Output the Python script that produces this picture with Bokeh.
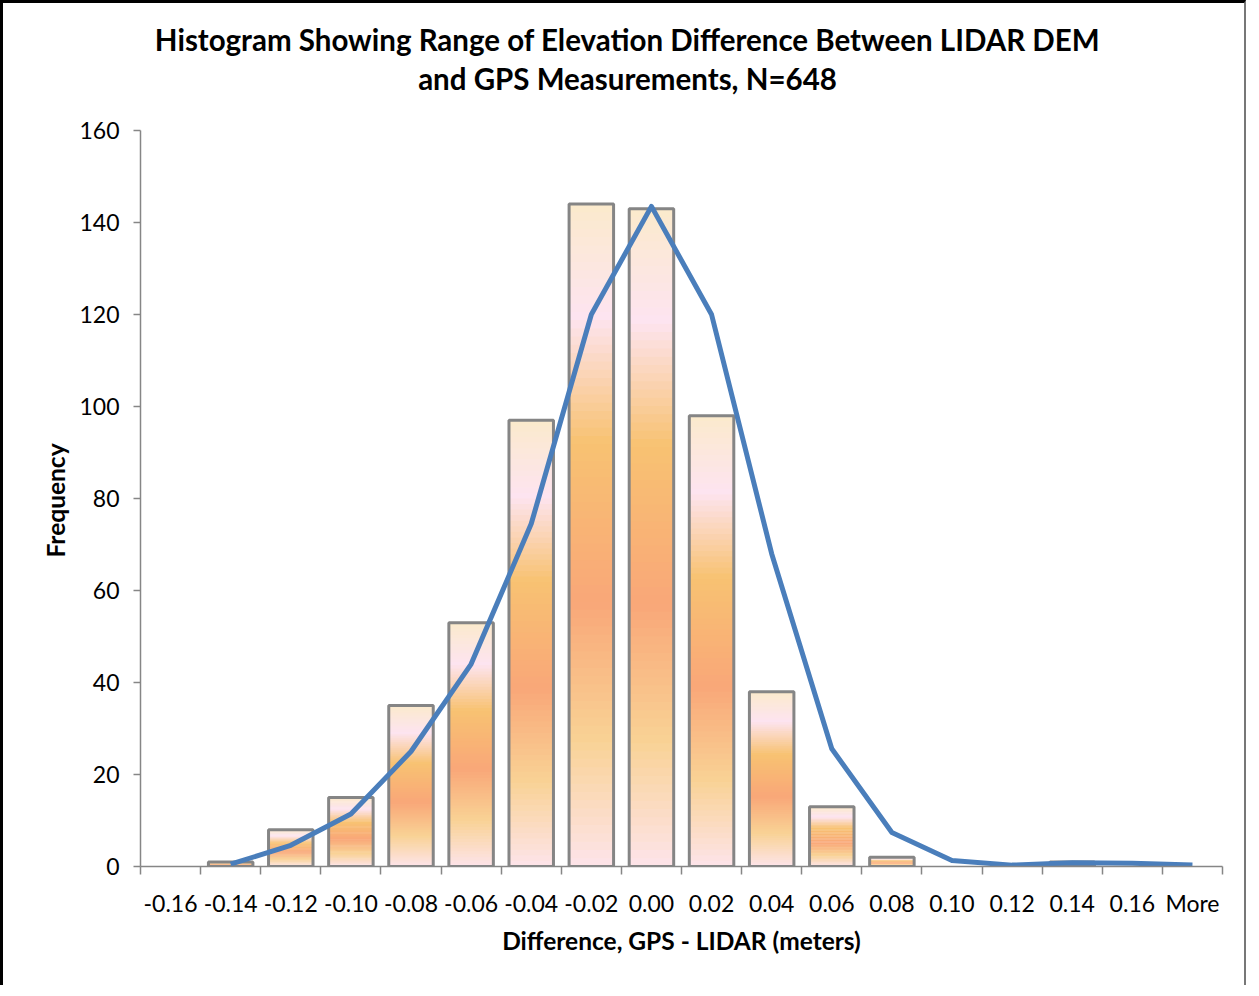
import numpy as np
from bokeh.plotting import figure
from bokeh.models import (ColumnDataSource, Range1d, FixedTicker, Label, CDSView,
                          BooleanFilter, Title)
from bokeh.embed import file_html
from bokeh.resources import INLINE

# ---- data ----
categories = ["-0.16", "-0.14", "-0.12", "-0.10", "-0.08", "-0.06", "-0.04", "-0.02",
              "0.00", "0.02", "0.04", "0.06", "0.08", "0.10", "0.12", "0.14", "0.16", "More"]
frequency = [0, 1, 8, 15, 35, 53, 97, 144, 143, 98, 38, 13, 2, 0, 0, 1, 0, 0]
normal_fit = [np.nan, 0.5, 4.6, 11.4, 25.0, 44.0, 74.5, 120.0, 143.5, 120.0, 68.0,
              25.6, 7.4, 1.3, 0.3, 0.8, 0.7, 0.3]
y_ticks = [0, 20, 40, 60, 80, 100, 120, 140, 160]

title_line1 = "Histogram Showing Range of Elevation Difference Between LIDAR DEM"
title_line2 = "and GPS Measurements, N=648"
x_label = "Difference, GPS - LIDAR (meters)"
y_label = "Frequency"

FONT = "Lato"
xs = np.arange(len(categories))
Y_MAX = 160

# ---- layout geometry (pixels) ----
W, H = 1246, 985
MB_LEFT, MB_RIGHT, MB_TOP, MB_BOTTOM = 137, 27, 10, 122
frame_w = W - MB_LEFT - MB_RIGHT
frame_h = H - MB_TOP - MB_BOTTOM
axis_h = 736                      # pixel height of the 0..160 value axis
y_top = Y_MAX * frame_h / axis_h  # extra room above the axis holds the title
px_per_cat = frame_w / len(categories)
x_start = -0.5
title_x = x_start + (W / 2 + 1 - MB_LEFT) / px_per_cat
title_y1 = 827 / axis_h * Y_MAX
title_y2 = 788 / axis_h * Y_MAX

# gradient stops (fraction from top of bar, colour)
stops = [(0.0, (251, 234, 204)), (0.17, (253, 228, 240)), (0.36, (248, 194, 114)),
         (0.60, (249, 167, 120)), (0.81, (249, 210, 149)), (1.0, (253, 228, 234))]


def grad_color(t):
    for (t0, c0), (t1, c1) in zip(stops[:-1], stops[1:]):
        if t0 <= t <= t1:
            f = (t - t0) / (t1 - t0)
            c = [round(a + (b - a) * f) for a, b in zip(c0, c1)]
            return "#%02x%02x%02x" % tuple(c)
    return "#%02x%02x%02x" % stops[-1][1]


N = 80
sx, sb, st, sc = [], [], [], []
for x, v in zip(xs, frequency):
    if v <= 0:
        continue
    for k in range(N):
        f0 = k / N
        f1 = min((k + 1.6) / N, 1.0)
        t = 1.0 - (k + 0.5) / N
        sx.append(x)
        sb.append(v * f0)
        st.append(v * f1)
        sc.append(grad_color(t))
strips = ColumnDataSource(dict(x=sx, bottom=sb, top=st, color=sc))
bars = ColumnDataSource(dict(x=xs, top=frequency))
nonzero = CDSView(filter=BooleanFilter([v > 0 for v in frequency]))
line_src = ColumnDataSource(dict(x=xs, y=normal_fit))

p = figure(width=W, height=H, output_backend="svg", toolbar_location=None,
           x_range=Range1d(x_start, len(categories) - 0.5), y_range=Range1d(0, y_top),
           min_border_left=MB_LEFT, min_border_right=MB_RIGHT, min_border_top=MB_TOP,
           min_border_bottom=MB_BOTTOM)
p.title = None
p.styles = {"border-left": "3px solid black", "border-top": "3px solid black",
            "border-right": "2px solid #777777"}

p.vbar(x="x", bottom="bottom", top="top", width=0.74, fill_color="color",
       line_color=None, source=strips)
p.vbar(x="x", top="top", bottom=0, width=0.74, fill_color=None,
       line_color="#858585", line_width=3, source=bars, view=nonzero)
p.line(x="x", y="y", source=line_src, line_color="#4a7ebb", line_width=5,
       line_join="round")

p.grid.visible = False
p.outline_line_color = None
p.background_fill_color = "white"
p.border_fill_color = "white"

xa = p.xaxis[0]
xa.ticker = FixedTicker(ticks=list(xs), minor_ticks=[i - 0.5 for i in range(len(categories) + 1)])
xa.major_label_overrides = {int(i): c for i, c in zip(xs, categories)}
xa.major_tick_line_color = None
xa.minor_tick_line_color = "#868686"
xa.minor_tick_line_width = 1.5
xa.minor_tick_out = 8
xa.minor_tick_in = 0
xa.axis_line_color = "#868686"
xa.axis_line_width = 1.5
xa.major_label_text_font = FONT
xa.major_label_text_font_size = "23px"
xa.major_label_text_color = "#000000"
xa.major_label_standoff = 14
xa.axis_label = x_label
xa.axis_label_text_font = FONT
xa.axis_label_text_font_style = "bold"
xa.axis_label_text_font_size = "24.5px"
xa.axis_label_text_color = "#000000"
xa.axis_label_standoff = 6

ya = p.yaxis[0]
ya.bounds = (0, Y_MAX)
ya.ticker = FixedTicker(ticks=y_ticks, minor_ticks=[])
ya.major_tick_line_color = "#868686"
ya.major_tick_line_width = 1.5
ya.major_tick_out = 7
ya.major_tick_in = 0
ya.minor_tick_line_color = None
ya.axis_line_color = "#868686"
ya.axis_line_width = 1.5
ya.major_label_text_font = FONT
ya.major_label_text_font_size = "23px"
ya.major_label_text_color = "#000000"
ya.major_label_standoff = 14

# y-axis title, centred on the 0..160 value axis (not on the taller frame)
p.add_layout(Title(text=y_label, align="left", offset=309, text_font=FONT,
                   text_font_style="bold", text_font_size="24.5px",
                   text_color="#000000", standoff=14), "left")

for txt, ty in ((title_line1, title_y1), (title_line2, title_y2)):
    p.add_layout(Label(x=title_x, y=ty, text=txt, text_font=FONT,
                       text_font_style="bold", text_font_size="29.5px",
                       text_color="#000000", text_align="center",
                       text_baseline="alphabetic"))

open("out.html", "w").write(file_html(p, INLINE))
